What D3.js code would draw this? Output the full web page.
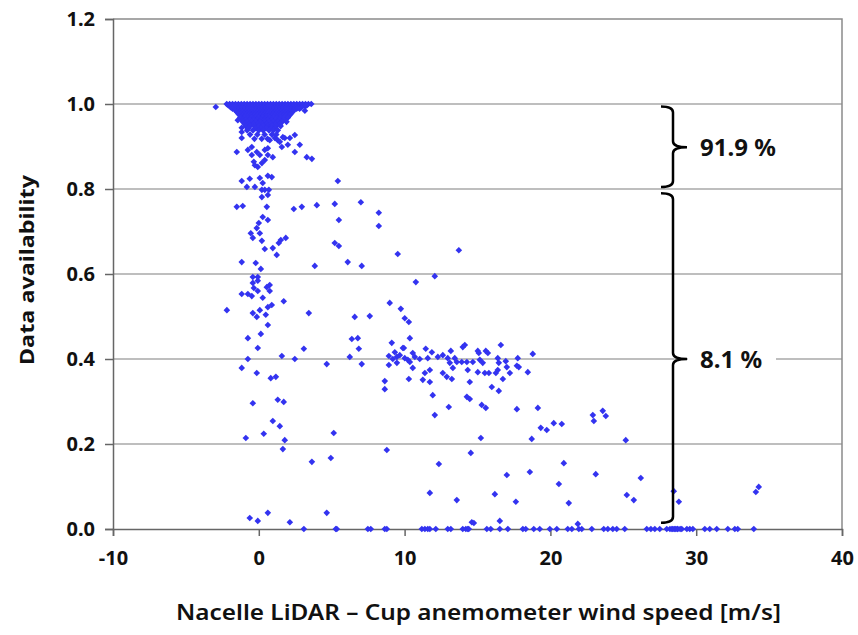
<!DOCTYPE html>
<html><head><meta charset="utf-8">
<script src="https://cdn.jsdelivr.net/npm/d3@7"></script>
<style>body{margin:0;background:#fff}svg{display:block}text{font-family:"Noto Sans",sans-serif}</style>
</head><body><svg id="c" width="858" height="635"></svg>
<script>
// ---------- data ----------
const xTicks = [-10, 0, 10, 20, 30, 40];
const yTicks = [0.0, 0.2, 0.4, 0.6, 0.8, 1.0, 1.2];
const xTitle = "Nacelle LiDAR \u2013 Cup anemometer wind speed [m/s]";
const yTitle = "Data availability";
const braceLabels = ["91.9 %", "8.1 %"];
const braceRanges = [[0.994, 0.805], [0.79, 0.015]]; // [top, bottom] in availability units
const braceMid = [0.898, 0.40];

// dense band near availability = 1 : rows of [y, x-list]
const bandRows = [
  [1.0,   [-2.2,-2.0,-1.8,-1.6,-1.4,-1.2,-1.0,-0.8,-0.6,-0.4,-0.2,0,0.2,0.4,0.6,0.8,1.0,1.2,1.4,1.6,1.8,2.0,2.2,2.4,2.6,2.8,3.0,3.2,3.4,3.6]],
  [0.997, [-2.1,-1.9,-1.7,-1.5,-1.3,-1.1,-0.9,-0.7,-0.5,-0.3,-0.1,0.1,0.3,0.5,0.7,0.9,1.1,1.3,1.5,1.7,1.9,2.1,2.3,2.5,2.7,2.9,3.1,3.3]],
  [0.995, [-2.0,-1.8,-1.6,-1.4,-1.2,-1.0,-0.8,-0.6,-0.4,-0.2,0,0.2,0.4,0.6,0.8,1.0,1.2,1.4,1.6,1.8,2.0,2.2,2.4,2.6,2.8,3.0,3.2]],
  [0.992, [-1.9,-1.7,-1.5,-1.3,-1.1,-0.9,-0.7,-0.5,-0.3,-0.1,0.1,0.3,0.5,0.7,0.9,1.1,1.3,1.5,1.7,1.9,2.1,2.3,2.5,2.7,2.9]],
  [0.989, [-1.8,-1.6,-1.4,-1.2,-1.0,-0.8,-0.6,-0.4,-0.2,0,0.2,0.4,0.6,0.8,1.0,1.2,1.4,1.6,1.8,2.0,2.2,2.4,2.6,2.8]],
  [0.985, [-1.6,-1.4,-1.2,-1.0,-0.8,-0.6,-0.4,-0.2,0,0.2,0.4,0.6,0.8,1.0,1.2,1.4,1.6,1.8,2.0,2.2,2.4]],
  [0.981, [-1.5,-1.3,-1.1,-0.9,-0.7,-0.5,-0.3,-0.1,0.1,0.3,0.5,0.7,0.9,1.1,1.3,1.5,1.7,1.9,2.1,2.3]],
  [0.977, [-1.4,-1.2,-1.0,-0.8,-0.6,-0.4,-0.2,0,0.2,0.4,0.6,0.8,1.0,1.2,1.4,1.6,1.8,2.0,2.2]],
  [0.973, [-1.3,-1.1,-0.9,-0.7,-0.5,-0.3,-0.1,0.1,0.3,0.5,0.7,0.9,1.1,1.3,1.5,1.7,1.9,2.1]],
  [0.968, [-1.25,-1.0,-0.75,-0.5,-0.25,0,0.25,0.5,0.75,1.0,1.25,1.5,1.75,2.0]],
  [0.963, [-1.1,-0.9,-0.6,-0.35,-0.1,0.15,0.4,0.65,0.9,1.15,1.4,1.7]],
  [0.958, [-1.1,-0.8,-0.5,-0.2,0.1,0.4,0.7,1.0,1.3,1.6,1.9]],
  [0.953, [-0.95,-0.65,-0.35,-0.05,0.25,0.55,0.85,1.15,1.45]],
  [0.948, [-0.9,-0.6,-0.3,0,0.3,0.6,0.9,1.2,1.5]],
  [0.943, [-0.7,-0.2,0.15,0.5,0.85,1.15]],
  [0.938, [-0.8,-0.4,0,0.3,0.7,1.0,1.3]],
  [0.928, [-0.6,-0.1,0.4,0.9,1.2]],
  [0.918, [-0.3,0.2,0.6]]
];

// scattered points [x, availability]
const scatterPoints = [
  [-2.95,0.993],[3.16,0.984],[-1.44,0.962],[-1.17,0.934],[-1.17,0.944],[-1.17,0.92],[-1.51,0.887],[-0.75,0.892],
  [-0.48,0.899],[-0.48,0.88],[-0.34,0.864],[-0.27,0.856],[-0.14,0.887],[-0.07,0.852],[0.07,0.88],[0.21,0.861],
  [0.41,0.892],[0.41,0.868],[0.62,0.896],[0.62,0.88],[0.75,0.915],[0.96,0.875],[1.1,0.92],[1.3,0.915],[1.44,0.911],
  [1.58,0.899],[1.65,0.922],[1.78,0.92],[1.99,0.904],[2.13,0.92],[2.47,0.927],[2.47,0.887],[2.81,0.904],[3.29,0.875],
  [3.64,0.871],[5.42,0.819],[-1.17,0.819],[-0.62,0.824],[-0.82,0.805],[-0.27,0.805],[0.07,0.826],[0.27,0.814],
  [0.62,0.831],[0.89,0.828],[0.21,0.798],[0.41,0.798],[0.21,0.781],[0.62,0.786],[0.69,0.798],
  [-1.51,0.758],[-1.1,0.76],[0.55,0.758],[2.4,0.753],[2.95,0.758],[3.98,0.762],[5.21,0.765],[7.0,0.769],[8.23,0.744],
  [8.23,0.713],[5.49,0.727],[0.27,0.734],[0.62,0.727],[0,0.72],[-0.14,0.708],[0.07,0.696],[-0.55,0.696],[-0.41,0.685],
  [0.21,0.678],[1.51,0.68],[1.85,0.685],[1.37,0.673],[0.96,0.661],[0.41,0.659],[1.23,0.645],[5.21,0.673],[5.49,0.666],
  [9.53,0.647],[13.72,0.656],[-1.17,0.628],[-0.21,0.626],[0.14,0.612],[3.84,0.619],[6.1,0.628],[7.06,0.619],
  [-0.41,0.593],[-0.07,0.593],[-0.07,0.584],[-0.41,0.579],[-0.34,0.567],[-0.07,0.56],[0.75,0.574],[0.55,0.569],
  [0.75,0.56],[10.77,0.581],[12.07,0.595],[-1.17,0.553],[-0.75,0.553],[-0.48,0.548],[0.27,0.544],[1.71,0.536],
  [0.89,0.527],[0.62,0.522],[-2.19,0.515],[-0.41,0.508],[0.07,0.515],[-0.14,0.499],[0.48,0.504],[3.43,0.508],
  [6.58,0.499],[7.61,0.501],[8.98,0.532],[9.74,0.518],[10.01,0.496],[10.29,0.487],[0.62,0.48],[0.14,0.459],
  [-0.75,0.449],[-0.07,0.426],[3.09,0.424],[6.38,0.447],[6.79,0.449],[6.86,0.424],[6.24,0.405],[7.06,0.388],
  [4.66,0.388],[2.47,0.4],[1.58,0.407],[-0.75,0.4],[-1.17,0.379],[-0.14,0.367],[0.82,0.355],[1.17,0.358],
  [8.64,0.348],[8.64,0.329],[9.12,0.438],[10.36,0.449],[9.95,0.426],[11.93,0.315],[-0.41,0.296],[1.3,0.304],
  [1.71,0.299],[0.96,0.254],[1.44,0.242],[-0.89,0.214],[0.34,0.224],[5.14,0.226],[1.78,0.209],[1.65,0.188],
  [3.64,0.158],[4.94,0.167],[-0.62,0.026],[-0.07,0.019],[0.62,0.038],[2.13,0.016],[4.66,0.038],
  // cluster around 0.4
  [8.92,0.407],[8.92,0.386],[9.47,0.405],[9.47,0.391],[9.88,0.426],[10.01,0.402],[10.22,0.398],[10.36,0.393],
  [10.56,0.414],[10.7,0.405],[10.56,0.379],[10.29,0.353],[11.04,0.4],[11.45,0.424],[11.59,0.402],[11.87,0.416],
  [11.39,0.367],[11.25,0.351],[11.73,0.374],[11.73,0.346],[12.07,0.268],[12.28,0.405],[12.62,0.409],[12.62,0.367],
  [12.96,0.402],[13.17,0.419],[13.1,0.391],[13.31,0.379],[12.89,0.358],[13.24,0.353],[13.03,0.287],[13.44,0.402],
  [13.58,0.393],[13.92,0.393],[13.99,0.428],[14.13,0.433],[14.27,0.393],[14.33,0.374],[14.47,0.346],[14.27,0.311],
  [14.47,0.306],[14.68,0.393],[15.02,0.419],[15.09,0.414],[15.16,0.398],[15.02,0.369],[15.36,0.391],[15.57,0.419],
  [15.71,0.414],[15.5,0.367],[15.78,0.367],[15.29,0.292],[15.57,0.285],[15.98,0.334],[16.39,0.402],[16.6,0.433],
  [16.46,0.391],[16.26,0.367],[16.39,0.374],[16.46,0.325],[16.94,0.395],[17.01,0.381],[17.22,0.367],[16.74,0.353],
  [17.76,0.402],[17.7,0.384],[17.83,0.381],[18.45,0.369],[18.79,0.412],[17.7,0.282],[19.14,0.285],[19.34,0.238],
  [19.75,0.233],[20.23,0.249],[20.78,0.247],[15.23,0.214],[18.72,0.212],[9.33,0.416],[9.67,0.409],[9.19,0.4],
  // lower right
  [8.78,0.186],[22.91,0.268],[22.98,0.254],[23.59,0.278],[23.8,0.266],[25.17,0.209],[14.54,0.179],[12.35,0.153],
  [17.01,0.127],[18.59,0.134],[20.92,0.155],[20.58,0.106],[23.11,0.129],[26.2,0.12],[11.73,0.085],[13.58,0.068],
  [16.19,0.082],[17.63,0.064],[21.26,0.061],[25.24,0.08],[25.72,0.068],[28.46,0.089],[28.81,0.064],[34.09,0.087],
  [34.29,0.099],[14.61,0.016],[14.75,0.014],[16.53,0.019],[21.88,0.012]
];

// points at zero availability (x values)
const zeroX = [3.09,5.28,5.35,7.48,7.68,8.64,8.78,11.18,11.39,11.59,11.73,12.14,12.96,13.17,13.99,14.2,14.33,14.4,
  15.64,15.91,16.53,17.08,18.11,18.31,18.86,19.27,19.96,20.44,21.19,21.47,21.95,22.15,22.84,23.66,23.94,24.28,24.55,
  25.1,26.61,26.89,27.16,27.5,27.98,28.2,28.33,28.4,28.5,28.6,28.7,28.74,28.9,29.01,29.36,29.56,29.77,30.59,30.93,
  31.41,32.17,32.65,32.85,33.95];

// ---------- chart ----------
const svg = d3.select("#c");
const L = 113, R = 842, T = 19, B = 529;
const x = d3.scaleLinear().domain([-10, 40]).range([L, R]);
const y = d3.scaleLinear().domain([0, 1.2]).range([B, T]);

// gridlines
svg.append("g").selectAll("line").data(yTicks.filter(v => v > 0 && v < 1.2)).join("line")
  .attr("x1", L).attr("x2", R).attr("y1", d => y(d)).attr("y2", d => y(d))
  .attr("stroke", "#a8a8a8").attr("stroke-width", 1.5);

// plot border (top, right)
svg.append("path").attr("d", `M${L},${T}H${R}V${B}`).attr("fill", "none")
  .attr("stroke", "#8a8a8a").attr("stroke-width", 1.5);

// axes
const fmt = d3.format(".1f");
const yAxis = svg.append("g").attr("transform", `translate(${L},0)`)
  .call(d3.axisLeft(y).tickValues(yTicks).tickFormat(fmt).tickSize(8).tickPadding(10));
const xAxis = svg.append("g").attr("transform", `translate(0,${B})`)
  .call(d3.axisBottom(x).tickValues(xTicks).tickFormat(d3.format("d")).tickSize(7).tickPadding(15));
[yAxis, xAxis].forEach(a => {
  a.select(".domain").attr("stroke", "#666").attr("stroke-width", 1.5);
  a.selectAll(".tick line").attr("stroke", "#666").attr("stroke-width", 1.5);
  a.selectAll("text").attr("fill", "#111").attr("font-size", 20).attr("font-weight", 700)
    .style("font-family", "'Liberation Sans Narrow','Noto Sans',sans-serif");
});
xAxis.selectAll("text").text(d => d < 0 ? "-" + Math.abs(d) : d);

// titles
svg.append("text").attr("x", (L + R) / 2 + 1).attr("y", 620).attr("text-anchor", "middle")
  .attr("font-size", 22).attr("font-weight", 600).attr("fill", "#111")
  .attr("textLength", 605).attr("lengthAdjust", "spacingAndGlyphs").text(xTitle);
svg.append("text").attr("transform", `translate(34,${270}) rotate(-90)`).attr("text-anchor", "middle")
  .attr("font-size", 19).attr("font-weight", 700).attr("fill", "#111")
  .attr("textLength", 190).attr("lengthAdjust", "spacingAndGlyphs").text(yTitle);

// markers
const diamond = "M0,-3.3L3.3,0L0,3.3L-3.3,0Z";
const allPts = [];
bandRows.forEach(([yy, xs]) => xs.forEach(xx => allPts.push([xx, yy])));
scatterPoints.forEach(p => allPts.push(p));
zeroX.forEach(xx => allPts.push([xx, 0]));
svg.append("g").selectAll("path").data(allPts).join("path")
  .attr("d", diamond).attr("transform", d => `translate(${x(d[0])},${y(d[1])})`)
  .attr("fill", "#3333f0");

// braces
const bx = 673;
function bracePath(top, bot, mid) {
  const h = 12, r = 6;
  return `M${bx - h},${top} Q${bx},${top} ${bx},${top + r} V${mid - r} Q${bx},${mid} ${bx + 14},${mid}` +
         `M${bx + 14},${mid} Q${bx},${mid} ${bx},${mid + r} V${bot - r} Q${bx},${bot} ${bx - h},${bot}`;
}
braceRanges.forEach((r, i) => {
  const mid = y(braceMid[i]);
  if (i === 1) {
    svg.append("rect").attr("x", bx + 15).attr("y", mid - 14).attr("width", 88).attr("height", 28).attr("fill", "#fff");
  }
  svg.append("path").attr("d", bracePath(y(r[0]), y(r[1]), mid))
    .attr("fill", "none").attr("stroke", "#000").attr("stroke-width", 2.5);
  svg.append("text").attr("x", bx + 27).attr("y", mid + 9).attr("font-size", 24).attr("font-weight", 700)
    .attr("fill", "#111").text(braceLabels[i]);
});
</script></body></html>
